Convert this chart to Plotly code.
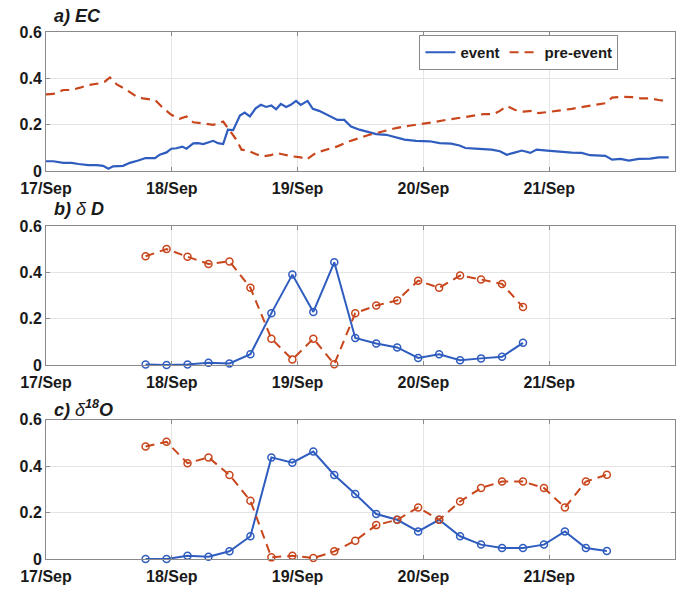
import plotly.graph_objects as go

# ---------------- data ----------------
# Panel a: hours since 17/Sep 00:00
ec_event_h = [0, 1.4, 3.3, 4.9, 6.2, 8.1, 9.7, 10.9, 11.9, 12.8, 14.7, 16, 17.6, 19, 20.8, 21.7, 23,
              23.9, 24.9, 26, 26.8, 28.1, 29, 30, 31.9, 32.8, 33.8, 34.7, 35.7, 37, 37.9, 38.9, 40, 41,
              42, 43, 43.9, 44.8, 45.8, 46.7, 47.7, 48.6, 49.9, 50.9, 52.1, 54, 55.6, 56.9, 58.2, 59.8,
              61.4, 63, 64.9, 66.8, 68.4, 70.6, 73.2, 75.1, 77.3, 78.9, 80, 81.9, 83.8, 85, 86.6, 87.9,
              89.2, 90.8, 92.4, 93.6, 95.6, 97.8, 100.3, 102.2, 103.8, 106.7, 108, 109.6, 111.2, 113.1,
              115.3, 116.9, 118.8]
ec_event_v = [.043, .043, .036, .036, .031, .026, .026, .023, .011, .021, .023, .036, .046, .057, .056,
              .071, .081, .097, .099, .106, .097, .12, .121, .117, .131, .121, .117, .179, .177, .24,
              .253, .236, .271, .286, .277, .283, .267, .29, .277, .286, .303, .286, .303, .269, .26,
              .24, .221, .221, .193, .179, .169, .16, .157, .146, .136, .131, .129, .121, .119, .111,
              .1, .097, .093, .093, .086, .071, .079, .089, .079, .093, .089, .084, .08, .079, .069,
              .066, .05, .053, .046, .053, .054, .06, .06]

ec_pre_h = [0, 1.4, 3.3, 4.9, 6.5, 8.1, 10.3, 11.2, 12.2, 13.5, 15.4, 17.3, 18.5, 20.8, 22.4, 23.9,
            25.5, 26.8, 28.1, 30, 31.9, 33.8, 35.1, 36.3, 37.3, 38.5, 40, 41.3, 42.9, 43.9, 45.5, 47,
            48.6, 49.7, 51.5, 53.4, 55.6, 57.9, 59.8, 61.7, 64.2, 66.8, 69.3, 71.9, 73.8, 76.3, 78.9,
            81.2, 83.5, 85.4, 86.6, 87.9, 89.5, 91.1, 93, 94, 95.6, 97.8, 100.3, 102.6, 104.8, 106.7,
            108, 109.9, 111.8, 113.4, 115.3, 116.9, 118.8]
ec_pre_v = [.331, .333, .35, .35, .36, .371, .379, .386, .404, .374, .35, .321, .314, .307, .271, .243,
            .226, .236, .211, .207, .2, .214, .171, .136, .093, .089, .074, .064, .069, .079, .071,
            .064, .06, .05, .079, .093, .107, .129, .143, .157, .171, .186, .196, .203, .211, .221,
            .231, .239, .246, .246, .26, .281, .264, .257, .261, .25, .254, .261, .269, .279, .286,
            .293, .317, .321, .319, .314, .314, .307, .3]

# Panel b: every 4 h from 17/Sep 19:00
dD_h = [19, 23, 27, 31, 35, 39, 43, 47, 51, 55, 59, 63, 67, 71, 75, 79, 83, 87, 91]
dD_event = [.003, .0, .003, .01, .007, .047, .224, .39, .229, .443, .117, .093, .076, .031, .047,
            .021, .029, .036, .096]
dD_pre = [.469, .5, .467, .436, .447, .333, .114, .024, .114, .004, .224, .257, .279, .364, .333,
          .386, .369, .35, .25]

# Panel c: every 4 h from 17/Sep 19:00
d18O_h = [19, 23, 27, 31, 35, 39, 43, 47, 51, 55, 59, 63, 67, 71, 75, 79, 83, 87, 91, 95, 99, 103, 107]
d18O_event = [.0, .0, .014, .01, .033, .098, .438, .415, .463, .362, .28, .194, .169, .119, .169,
              .098, .062, .047, .047, .062, .119, .047, .034]
d18O_pre = [.485, .505, .413, .438, .362, .251, .007, .014, .004, .033, .079, .146, .169, .222, .169,
            .248, .306, .334, .334, .306, .222, .334, .363]

x_tickvals = [0, 24, 48, 72, 96]
x_ticktext = ["17/Sep", "18/Sep", "19/Sep", "20/Sep", "21/Sep"]
y_tickvals = [0, 0.2, 0.4, 0.6]
y_ticktext = ["0", "0.2", "0.4", "0.6"]

panel_titles = ["<b><i>a) EC</i></b>", "<b><i>b) </i></b><i>δ</i><b><i> D</i></b>",
                "<b><i>c) </i></b><i>δ</i><b><i><sup>18</sup>O</i></b>"]

BLUE = "#2f5cbf"
ORANGE = "#c8461c"
FONT = "Liberation Sans, Arial, sans-serif"

fig = go.Figure()

# panel a
fig.add_trace(go.Scatter(x=ec_event_h, y=ec_event_v, mode="lines", name="event",
                         line=dict(color=BLUE, width=2.2), xaxis="x", yaxis="y"))
fig.add_trace(go.Scatter(x=ec_pre_h, y=ec_pre_v, mode="lines", name="pre-event",
                         line=dict(color=ORANGE, width=2.2, dash="9px,6px"), xaxis="x", yaxis="y"))

# panel b, c
for xs, ev, pr, ax, ay in [(dD_h, dD_event, dD_pre, "x2", "y2"),
                           (d18O_h, d18O_event, d18O_pre, "x3", "y3")]:
    fig.add_trace(go.Scatter(x=xs, y=ev, mode="lines+markers", showlegend=False, cliponaxis=False,
                             line=dict(color=BLUE, width=2),
                             marker=dict(symbol="circle-open", size=7, color=BLUE, line=dict(width=1.5)),
                             xaxis=ax, yaxis=ay))
    fig.add_trace(go.Scatter(x=xs, y=pr, mode="lines+markers", showlegend=False, cliponaxis=False,
                             line=dict(color=ORANGE, width=2, dash="9px,6px"),
                             marker=dict(symbol="circle-open", size=7, color=ORANGE, line=dict(width=1.5)),
                             xaxis=ax, yaxis=ay))

H_PLOT = 530.0
def py(p):  # pixel (from top) -> paper y
    return (562 - p) / H_PLOT

domains = [(py(172), 1.0), (py(367), py(227)), (0.0, py(422))]

axis_common = dict(showline=True, linecolor="#8a8a8a", linewidth=1, mirror="allticks",
                   ticks="inside", ticklen=4, tickcolor="#8a8a8a",
                   showgrid=True, gridcolor="#e4e4e4", gridwidth=1, zeroline=False,
                   tickfont=dict(family=FONT, size=16, color="#1a1a1a", weight="bold"))

layout = dict(width=682, height=591, margin=dict(l=46, r=6, t=32, b=29),
              plot_bgcolor="white", paper_bgcolor="white",
              font=dict(family=FONT, color="#1a1a1a"),
              legend=dict(orientation="h", x=(420 - 46) / 630.0, y=py(35), xanchor="left", yanchor="top",
                          bgcolor="white", bordercolor="#8a8a8a", borderwidth=1,
                          font=dict(family=FONT, size=15, color="#1a1a1a", weight="bold"),
                          itemwidth=30, tracegroupgap=0))

for i, (d0, d1) in enumerate(domains):
    sx = "" if i == 0 else str(i + 1)
    layout["xaxis" + sx] = dict(axis_common, domain=[0, 1], range=[0, 120], tickvals=x_tickvals,
                                ticktext=x_ticktext, anchor="y" + sx, ticklabelstandoff=3)
    layout["yaxis" + sx] = dict(axis_common, domain=[d0, d1], range=[0, 0.6], tickvals=y_tickvals,
                                ticktext=y_ticktext, anchor="x" + sx)

fig.update_layout(**layout)

title_y = [16, 210, 411]
for t, ty in zip(panel_titles, title_y):
    fig.add_annotation(text=t, xref="paper", yref="paper", x=(52 - 46) / 630.0, y=py(ty),
                       xanchor="left", yanchor="middle", showarrow=False,
                       font=dict(family=FONT, size=18, color="#1a1a1a"))

fig.write_html("out.html")
